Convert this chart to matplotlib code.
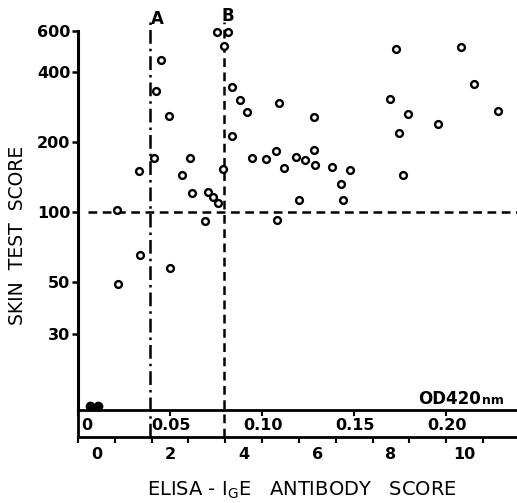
import numpy as np
import matplotlib
matplotlib.use('Agg')
import matplotlib.pyplot as plt
from matplotlib.ticker import NullLocator

plt.rcParams['font.family'] = ['DejaVu Sans']

# ELISA-IgE antibody score (x) against skin test score (y), open circles
elisa_score = [0.61, 0.64, 1.20, 1.23, 1.61, 1.66, 1.80, 2.01, 2.04, 2.36,
               2.58, 2.64, 2.99, 3.07, 3.20, 3.34, 3.47, 3.31, 3.61, 3.50,
               3.72, 3.93, 4.12, 3.72, 4.26, 4.64, 4.91, 4.99, 5.12, 5.45,
               5.69, 5.93, 5.93, 5.96, 5.53, 4.93, 6.42, 6.66, 6.72, 6.91,
               8.15, 9.91, 10.26, 7.99, 8.47, 9.28, 10.91, 8.23, 8.34]
skin_score = [102, 49, 150, 65, 170, 331, 449, 258, 57.5, 144,
              170, 121, 91.5, 122, 116, 109, 153, 593, 593, 515,
              344, 303, 268, 212, 170, 169, 183, 294, 154, 172,
              167, 256, 185, 159, 113, 92.4, 156, 132, 113, 151,
              501, 511, 354, 305, 264, 239, 271, 218, 144]

# negative skin test (drawn as solid dots on the floor of the plot)
neg_elisa = [-0.12, 0.09]

skin_ticks = [30, 50, 100, 200, 400, 600]
score_ticks = [0, 2, 4, 6, 8, 10]
od_ticks = [0, 0.05, 0.10, 0.15, 0.20]
od_labels = ['0', '0.05', '0.10', '0.15', '0.20']

cut_a = 1.5
cut_b = 3.5
skin_cut = 100

W, H = 517, 503


def fx(px):
    return px / W


def fy(py):
    return 1 - py / H


fig = plt.figure(figsize=(W / 100, H / 100), dpi=100)

xlim = (-0.45, 11.42)
top_px, floor_px, base_px = 30.7, 410, 437
main_h = floor_px - top_px

ax = fig.add_axes([fx(78), fy(floor_px), 1 - fx(78), fy(top_px) - fy(floor_px)])
strip = fig.add_axes([fx(78), fy(base_px), 1 - fx(78), (base_px - floor_px) / H])
strip.patch.set_visible(False)

# main panel
ax.set_yscale('log')
ax.set_xlim(*xlim)
ax.set_ylim(14.1, 600)
ax.set_yticks(skin_ticks)
ax.set_yticklabels([str(t) for t in skin_ticks], fontweight='bold')
ax.yaxis.set_minor_locator(NullLocator())
ax.set_xticks([])
ax.tick_params(axis='y', direction='out', length=4, width=1.8, pad=1.5,
               labelsize=11.5)
for s in ['top', 'right', 'bottom']:
    ax.spines[s].set_visible(False)
ax.spines['left'].set_linewidth(2.2)

dash = (0, (3.5, 2.2))
ext_lo = -(base_px - floor_px) / main_h
ext_hi = 1 + 9 / main_h
ax.axvline(cut_a, ymin=ext_lo, ymax=ext_hi, color='black', lw=1.8,
           ls=(0, (5.5, 2, 1, 2)), clip_on=False)
ax.axvline(cut_b, ymin=ext_lo, ymax=ext_hi, color='black', lw=1.8,
           ls=dash, clip_on=False)
ax.hlines(skin_cut, -0.18, xlim[1], color='black', lw=1.8, ls=dash,
          clip_on=False)

ax.plot(elisa_score, skin_score, 'o', ms=4.9, mfc='white', mec='black',
        mew=1.7, ls='none', clip_on=False, zorder=3)
ax.plot(neg_elisa, [0.011] * len(neg_elisa), 'o', ms=6, color='black',
        transform=ax.get_xaxis_transform(), clip_on=False, zorder=3)

# OD strip and score axis
strip.set_xlim(*xlim)
strip.set_ylim(0, 1)
strip.set_yticks([])
strip.set_xticks(score_ticks)
strip.set_xticklabels([str(t) for t in score_ticks], fontweight='bold')
strip.set_xticks(np.arange(-0.5, 11, 1), minor=True)
strip.tick_params(axis='x', which='major', length=0, pad=7, labelsize=11.5)
strip.tick_params(axis='x', which='minor', direction='out', length=4, width=1.5)
strip.spines['right'].set_visible(False)
for s in ['left', 'top', 'bottom']:
    strip.spines[s].set_linewidth(2.0)

od_per_score = 0.05 * 37 / 92
od = strip.twiny()
od.set_xlim(0, (xlim[1] - xlim[0]) * od_per_score)
od.set_xticks(od_ticks)
od.set_xticklabels([])
od.tick_params(axis='x', direction='in', length=4, width=1.5)
for s in od.spines.values():
    s.set_visible(False)
for v, lab in zip(od_ticks, od_labels):
    if v == 0:
        od.annotate(lab, (v, 0.42), xytext=(2, 0), textcoords='offset points',
                    ha='left', va='center', fontsize=11.5, fontweight='bold')
    else:
        od.annotate(lab, (v, 0.42), xytext=(1, 0), textcoords='offset points',
                    ha='center', va='center', fontsize=11.5, fontweight='bold')

fig.text(fx(481), fy(404), 'OD420', ha='right', va='baseline',
         fontsize=12, fontweight='bold')
fig.text(fx(482), fy(404), 'nm', ha='left', va='baseline',
         fontsize=9, fontweight='bold')

fig.text(fx(157), fy(19), 'A', ha='center', va='center', fontsize=12,
         fontweight='bold')
fig.text(fx(228), fy(16), 'B', ha='center', va='center', fontsize=12,
         fontweight='bold')

fig.text(fx(18), fy(235), 'SKIN  TEST  SCORE', rotation=90, ha='center',
         va='center', fontsize=13.5)
fig.text(fx(302), fy(490), r'ELISA - I$_{\mathregular{G}}$E   ANTIBODY   SCORE',
         ha='center', va='center', fontsize=14)

fig.savefig('out.png', dpi=100)
